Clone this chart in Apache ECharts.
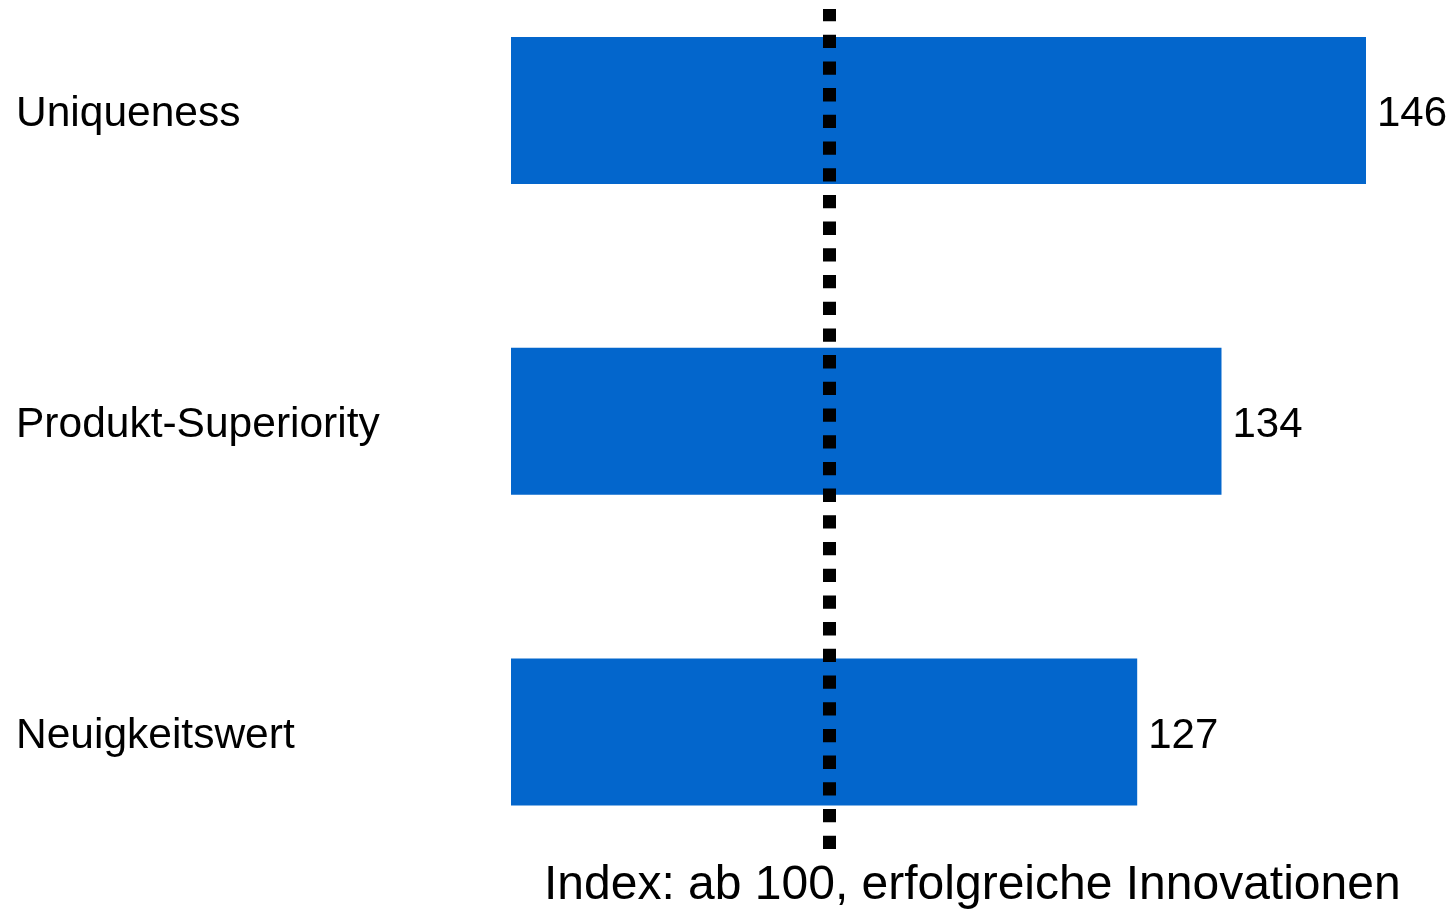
<!DOCTYPE html>
<html>
<head>
<meta charset="utf-8">
<script src="https://cdn.jsdelivr.net/npm/echarts@6/dist/echarts.min.js"></script>
<style>
  html, body { margin: 0; padding: 0; background: #fff; }
  #chart { width: 1454px; height: 912px; }
</style>
</head>
<body>
<div id="chart"></div>
<script>
// data
let categories = ["Uniqueness", "Produkt-Superiority", "Neuigkeitswert"];
let values = [146, 134, 127];
let refValue = 101.4;   // dotted reference line
let axisTitle = "Index: ab 100, erfolgreiche Innovationen";

let xMin = 75, xMax = 146;

var myChart = echarts.init(document.getElementById("chart"));

let option = {
    animation: false,
    title: {
        text: axisTitle,
        left: 544,
        top: 862,
        padding: 0,
        textStyle: {
            fontFamily: "Liberation Sans, Arial, sans-serif",
            fontSize: 48,
            fontWeight: "normal",
            color: "#000"
        }
    },
    grid: [
        // category centres sit on the grid edges (boundaryGap false)
        { left: 511, right: 88, top: 110.5, bottom: 180 },
        { left: 511, right: 88, top: 9, bottom: 63 }
    ],
    xAxis: [
        { type: "value", gridIndex: 0, min: xMin, max: xMax, startValue: xMin, show: false },
        { type: "value", gridIndex: 1, min: xMin, max: xMax, show: false }
    ],
    yAxis: [
        {
            type: "category",
            gridIndex: 0,
            data: categories,
            inverse: true,
            boundaryGap: false,
            axisLine: { show: false },
            axisTick: { show: false },
            splitLine: { show: false },
            axisLabel: {
                align: "left",
                verticalAlign: "top",
                lineHeight: 8,
                margin: 495,
                fontFamily: "Liberation Sans, Arial, sans-serif",
                fontSize: 42.5,
                color: "#000"
            }
        },
        { type: "value", gridIndex: 1, min: 0, max: 1, show: false }
    ],
    series: [
        {
            type: "bar",
            xAxisIndex: 0,
            yAxisIndex: 0,
            data: values,
            barWidth: 147,
            clip: false,
            itemStyle: { color: "#0366CC" },
            label: {
                show: true,
                position: "right",
                distance: 11,
                offset: [0, 4],
                fontFamily: "Liberation Sans, Arial, sans-serif",
                fontSize: 42,
                color: "#000"
            },
            z: 2
        },
        {
            type: "scatter",
            xAxisIndex: 1,
            yAxisIndex: 1,
            data: [],
            z: 5,
            markLine: {
                silent: true,
                symbol: "none",
                label: { show: false },
                lineStyle: {
                    color: "#000",
                    width: 13,
                    type: [13.3, 13.4],
                    cap: "butt"
                },
                data: [{ xAxis: refValue }]
            }
        }
    ]
};

myChart.setOption(option);
</script>
</body>
</html>
